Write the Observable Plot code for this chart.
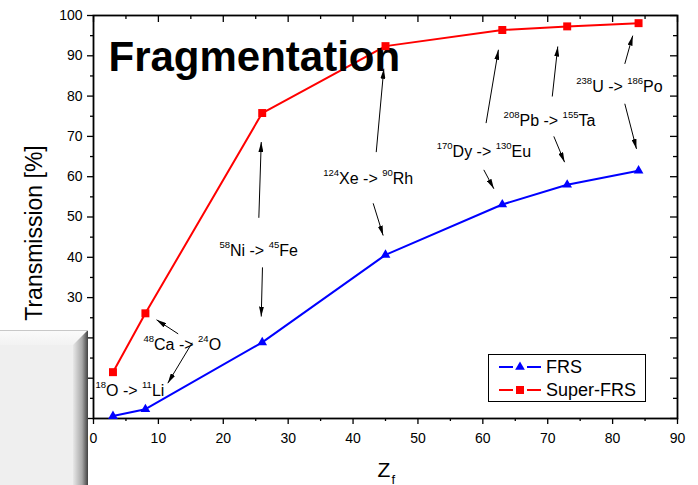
<!DOCTYPE html>
<html><head><meta charset="utf-8">
<script src="https://cdn.jsdelivr.net/npm/d3@7"></script>
<script src="https://cdn.jsdelivr.net/npm/@observablehq/plot@0.6"></script>
<style>
body{margin:0;background:#fff;}
#wrap{position:relative;width:698px;height:485px;font-family:"Liberation Sans",Arial,sans-serif;}
#wrap svg{display:block}
#overlay{position:absolute;left:0;top:0;pointer-events:none}
</style></head><body><div id="wrap"></div>
<script>
// ---- data ----
const zf = [3, 8, 26, 45, 63, 73, 84];
const frs = [0.6, 2.3, 18.9, 40.6, 53.1, 58.0, 61.5];
const superFrs = [11.5, 26.1, 75.8, 92.4, 96.4, 97.3, 98.1];
const seriesNames = ["FRS", "Super-FRS"];
const xMajor = [0, 10, 20, 30, 40, 50, 60, 70, 80, 90];
const xMinor = [5, 15, 25, 35, 45, 55, 65, 75, 85];
const yMajor = [0, 10, 20, 30, 40, 50, 60, 70, 80, 90, 100];
const yMinor = [5, 15, 25, 35, 45, 55, 65, 75, 85, 95];
const reactions = ["58Ni -> 45Fe", "124Xe -> 90Rh", "170Dy -> 130Eu", "208Pb -> 155Ta", "238U -> 186Po", "48Ca -> 24O", "18O -> 11Li"];
const reactionZ = [19.4, 35.4, 52.9, 63.2, 74.4, 7.7, 0.3];
const reactionT = [40.4, 58.1, 65.0, 72.5, 80.9, 16.9, 5.7];
const arrowZ1 = [25.48, 26.04, 43.57, 43.1, 60.5, 60.15, 70.7, 70.94, 81.88, 81.88, 13.05, 15.2];
const arrowT1 = [49.8, 37.5, 66.1, 53.4, 73.3, 61.7, 79.9, 70.0, 88.0, 78.1, 21.0, 18.8];
const arrowZ2 = [25.85, 25.85, 44.74, 44.64, 62.4, 61.7, 71.55, 72.6, 83.1, 83.68, 9.71, 11.45];
const arrowT2 = [68.6, 25.3, 86.8, 45.4, 91.5, 57.0, 92.3, 63.6, 95.0, 66.9, 24.5, 8.76];
const titleText = "Fragmentation";
const yLabel = "Transmission [%]";

// ---- tables ----
const rows = zf.map((z, i) => ({z, frs: frs[i], sup: superFrs[i]}));
const labels = reactions.map((t, i) => ({label: t, z: reactionZ[i], t: reactionT[i]}));
const arrows = arrowZ1.map((z, i) => ({x1: z, y1: arrowT1[i], x2: arrowZ2[i], y2: arrowT2[i]}));

const FONT = '"Liberation Sans", Arial, sans-serif';
const W = 698, H = 485, ML = 93, MR = 21, MT = 15, MB = 67;
const PW = W - ML - MR, PH = H - MT - MB;

const chart = Plot.plot({
  width: W, height: H,
  marginLeft: ML, marginRight: MR, marginTop: MT, marginBottom: MB,
  x: {domain: [0, 90]},
  y: {domain: [0, 100]},
  style: {fontFamily: FONT, fontSize: "14px", color: "black", background: "white", overflow: "visible"},
  marks: [
    Plot.axisX(xMajor, {tickSize: 6, tickPadding: 9, tickFormat: d => d, fontSize: 14, label: null, strokeWidth: 1.3}),
    Plot.axisX(xMinor, {tickSize: 3, tickFormat: () => "", label: null, strokeWidth: 1.3}),
    Plot.axisY(yMajor, {tickSize: 6, tickPadding: 5, tickFormat: d => d, fontSize: 14, label: null, strokeWidth: 1.3}),
    Plot.axisY(yMinor, {tickSize: 3, tickFormat: () => "", label: null, strokeWidth: 1.3}),
    Plot.tickX(xMajor, {x: d => d, insetBottom: PH - 7, stroke: "black", strokeWidth: 1.3}),
    Plot.tickX(xMinor, {x: d => d, insetBottom: PH - 4, stroke: "black", strokeWidth: 1.3}),
    Plot.tickY(yMajor, {y: d => d, insetLeft: PW - 7, stroke: "black", strokeWidth: 1.3}),
    Plot.tickY(yMinor, {y: d => d, insetLeft: PW - 4, stroke: "black", strokeWidth: 1.3}),
    Plot.frame({stroke: "black", strokeWidth: 1.8}),
    Plot.line(rows, {x: "z", y: "sup", stroke: "#ff0000", strokeWidth: 2}),
    Plot.line(rows, {x: "z", y: "frs", stroke: "#0000ff", strokeWidth: 2}),
    Plot.text([titleText], {frameAnchor: "top-left", text: d => d, textAnchor: "start", lineAnchor: "bottom", dx: 15, dy: 55.7, fontSize: 42, fontWeight: "bold", fill: "black"}),
    Plot.dot(rows, {x: "z", y: "sup", symbol: "square", r: 4.5, fill: "#ff0000"}),
    Plot.dot(rows, {x: "z", y: "frs", symbol: "triangle", r: 3.6, fill: "#0000ff"}),
    Plot.link(arrows, {x1: "x1", y1: "y1", x2: "x2", y2: "y2", stroke: "black", strokeWidth: 1}),
    Plot.text(labels, {x: "z", y: "t", text: "label", textAnchor: "start", lineAnchor: "bottom", fontSize: 16, fill: "black"}),
    Plot.text([yLabel], {frameAnchor: "left", text: d => d, textAnchor: "middle", rotate: -90, dx: -58.5, dy: 16, fontSize: 23, fill: "black"}),
    Plot.text(["Z"], {frameAnchor: "bottom", text: d => d, textAnchor: "start", lineAnchor: "bottom", dx: -8, dy: 58, fontSize: 21, fill: "black"}),
    Plot.text(["f"], {frameAnchor: "bottom", text: d => d, textAnchor: "start", lineAnchor: "bottom", dx: 6, dy: 65, fontSize: 13, fill: "black"})
  ]
});

const ns = "http://www.w3.org/2000/svg";
const svg = d3.select(chart);
// superscripts in reaction labels
svg.selectAll("text").each(function () {
  if (this.childElementCount) return;
  const s = this.textContent;
  if (!/^\d+[A-Z][a-z]? -> \d+[A-Z]/.test(s)) return;
  const parts = s.split(/(\d+)/);
  this.textContent = "";
  this.style.whiteSpace = "pre";
  let shift = 0;
  parts.forEach((p, i) => {
    if (!p) return;
    const sup = i % 2 === 1;
    const ts = document.createElementNS(ns, "tspan");
    const target = sup ? -8 : 0;
    ts.setAttribute("dy", target - shift);
    shift = target;
    if (sup) ts.setAttribute("font-size", 9.5);
    ts.textContent = p;
    this.appendChild(ts);
  });
});
// filled arrow heads
const defs = svg.append("defs");
defs.append("marker").attr("id", "ah").attr("viewBox", "0 0 10 5").attr("refX", 10).attr("refY", 2.5)
  .attr("markerWidth", 10).attr("markerHeight", 5).attr("orient", "auto").attr("markerUnits", "userSpaceOnUse")
  .append("path").attr("d", "M0,0L10,2.5L0,5Z").attr("fill", "black");
svg.selectAll('g[aria-label="link"] path').attr("marker-end", "url(#ah)");

const wrap = document.getElementById("wrap");
wrap.appendChild(chart);

// ---- overlay: legend and slide box ----
const ov = d3.create("svg").attr("id", "overlay").attr("width", W).attr("height", H);
const od = ov.append("defs");
const g1 = od.append("linearGradient").attr("id", "bevR").attr("x1", 0).attr("x2", 1).attr("y1", 0).attr("y2", 0);
g1.append("stop").attr("offset", 0).attr("stop-color", "#e8e8e8");
g1.append("stop").attr("offset", 0.6).attr("stop-color", "#a8a8a8");
g1.append("stop").attr("offset", 1).attr("stop-color", "#404040");
const g2 = od.append("linearGradient").attr("id", "bevT").attr("x1", 0).attr("x2", 0).attr("y1", 0).attr("y2", 1);
g2.append("stop").attr("offset", 0).attr("stop-color", "#fbfbfb");
g2.append("stop").attr("offset", 1).attr("stop-color", "#f2f2f2");
ov.append("rect").attr("x", 0).attr("y", 330).attr("width", 88).attr("height", 155).attr("fill", "#efefef");
ov.append("polygon").attr("points", "0,330 88,330 73,345 0,345").attr("fill", "url(#bevT)");
ov.append("polygon").attr("points", "88,330 88,485 73,485 73,345").attr("fill", "url(#bevR)");
ov.append("line").attr("x1", 0).attr("x2", 88).attr("y1", 330.5).attr("y2", 330.5).attr("stroke", "#c8c8c8");

const lg = ov.append("g").attr("font-family", FONT).attr("font-size", 18);
lg.append("rect").attr("x", 488.5).attr("y", 354.5).attr("width", 157).attr("height", 47).attr("fill", "white").attr("stroke", "black").attr("stroke-width", 1);
const legendItems = [
  {name: seriesNames[0], color: "#0000ff", sym: d3.symbolTriangle, size: 3.6 * 3.6 * Math.PI, y: 367},
  {name: seriesNames[1], color: "#ff0000", sym: d3.symbolSquare, size: 4.5 * 4.5 * Math.PI, y: 390}
];
legendItems.forEach(it => {
  lg.append("line").attr("x1", 499).attr("x2", 513).attr("y1", it.y).attr("y2", it.y).attr("stroke", it.color).attr("stroke-width", 2);
  lg.append("line").attr("x1", 527).attr("x2", 541).attr("y1", it.y).attr("y2", it.y).attr("stroke", it.color).attr("stroke-width", 2);
  lg.append("path").attr("d", d3.symbol(it.sym, it.size)()).attr("transform", `translate(520,${it.y})`).attr("fill", it.color);
  lg.append("text").attr("x", 546).attr("y", it.y + 6).attr("fill", "black").text(it.name);
});
wrap.appendChild(ov.node());
</script></body></html>
